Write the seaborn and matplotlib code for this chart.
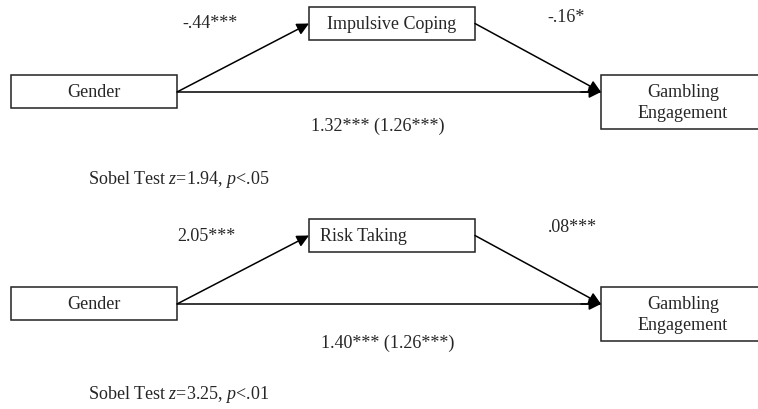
"""
Mediation diagrams: gender -> mediator -> gambling engagement.
"""
import matplotlib
matplotlib.use("Agg")
import matplotlib.pyplot as plt
import seaborn as sns
from matplotlib.patches import Rectangle, FancyArrowPatch

# ---------------------------------------------------------
# Diagram content
# ---------------------------------------------------------
predictor = "Gender"
outcome = "Gambling\nEngagement"
mediators = ["Impulsive Coping", "Risk Taking"]
path_a = ["-.44***", "2.05***"]
path_b = ["-.16*", ".08***"]
path_c = ["1.32*** (1.26***)", "1.40*** (1.26***)"]
sobel_z = ["1.94", "3.25"]
sobel_p = ["<.05", "<.01"]

# ---------------------------------------------------------
# Layout (pixel units, y downwards)
# ---------------------------------------------------------
panel_offset = [0, 212]
pred_box = (11, 76, 166, 33)      # x, y, w, h
med_box = (309, 8, 166, 33)
out_box = (601, 76, 170, 54)
line_y = 93

sns.set_style("white")
plt.rcParams["font.family"] = ["Liberation Serif", "DejaVu Serif"]
plt.rcParams["mathtext.fontset"] = "custom"
plt.rcParams["mathtext.rm"] = "Liberation Serif"
plt.rcParams["mathtext.it"] = "Liberation Serif:italic"

fig = plt.figure(figsize=(7.58, 4.10), dpi=100)
ax = fig.add_axes([0, 0, 1, 1])
ax.set_xlim(0, 758)
ax.set_ylim(410, 0)
ax.axis("off")

edge = "#222222"
fs = 13


def box(x, y, w, h, dy):
    ax.add_patch(Rectangle((x, y + dy), w, h, facecolor="white",
                           edgecolor=edge, linewidth=1.1, zorder=2))


def arrow(p0, p1):
    ax.add_patch(FancyArrowPatch(p0, p1, arrowstyle="-|>", mutation_scale=18,
                                 color="black", linewidth=1.1,
                                 shrinkA=0, shrinkB=0, zorder=3))


for i, dy in enumerate(panel_offset):
    px, py, pw, ph = pred_box
    mx, my, mw, mh = med_box
    ox, oy, ow, oh = out_box

    box(px, py, pw, ph, dy)
    box(mx, my, mw, mh, dy)
    box(ox, oy, ow, oh, dy)

    ax.text(px + pw / 2, py + ph / 2 + dy, predictor, ha="center", va="center", fontsize=fs)
    ax.text(mx + 11 if i == 1 else mx + mw / 2, my + mh / 2 + dy, mediators[i],
            ha="left" if i == 1 else "center", va="center", fontsize=fs)
    ax.text(683, oy + oh / 2 + dy, outcome, ha="center", va="center",
            fontsize=fs, linespacing=1.3)

    # paths
    ax.plot([px + pw, ox], [line_y + dy, line_y + dy], color="black", lw=1.1, zorder=1)
    arrow((px + pw, line_y + dy), (mx, my + mh / 2 + dy))
    arrow((mx + mw, my + mh / 2 + dy), (ox, line_y + dy))
    arrow((ox - 20, line_y + dy), (ox, line_y + dy))

    # coefficients
    ax.text(210 - 4 * i, 23 + dy + 2 * i, path_a[i], ha="center", va="center", fontsize=fs)
    ax.text(566 + 6 * i, 18 + dy - 2 * i, path_b[i], ha="center", va="center", fontsize=fs)
    ax.text(378 + 10 * i, 126 + dy + 5 * i, path_c[i], ha="center", va="center", fontsize=fs)
    ax.text(88, 180 + dy + 3 * i,
            "Sobel Test $\\mathit{z}$=" + sobel_z[i] + ", $\\mathit{p}$" + sobel_p[i],
            ha="left", va="center", fontsize=fs)

fig.savefig("out.png", dpi=100)
